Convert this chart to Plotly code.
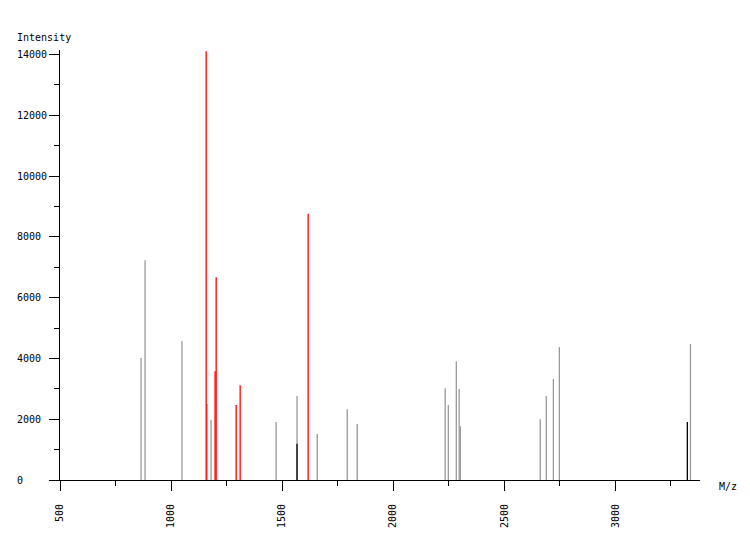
import plotly.graph_objects as go

# Peak data (m/z, intensity)
gray_mz = [865, 883, 1049, 1162, 1180, 1473, 1567, 1658, 1793, 1838,
           2234, 2248, 2284, 2297, 2302, 2662, 2689, 2721, 2748, 3338]
gray_int = [4010, 7230, 4570, 2500, 1970, 1910, 2760, 1510, 2330, 1840,
            3020, 2470, 3910, 2990, 1770, 2000, 2760, 3320, 4370, 4470]

red_mz = [1158, 1198, 1203, 1293, 1311, 1617]
red_int = [14100, 3580, 6670, 2470, 3120, 8760]

black_mz = [1567, 3324]
black_int = [1190, 1910]

y_tick_vals = [0, 2000, 4000, 6000, 8000, 10000, 12000, 14000]
x_tick_vals = [500, 1000, 1500, 2000, 2500, 3000]

FONT = "DejaVu Sans Mono"

# page body has an 8px margin, so the figure is drawn at (8, 8)
OFF = 8
L, R, T, B = 60 - OFF, 50, 50 - OFF, 60
W, H = 750 - OFF, 540 - OFF
PW = W - L - R
PH = H - T - B


def sticks(xs, ys):
    px, py = [], []
    for x, y in zip(xs, ys):
        px += [x, x, None]
        py += [0, y, None]
    return px, py


fig = go.Figure()
for xs, ys, col in [(gray_mz, gray_int, "#999999"),
                    (red_mz, red_int, "#ff0000"),
                    (black_mz, black_int, "#000000")]:
    px, py = sticks(xs, ys)
    fig.add_trace(go.Scatter(x=px, y=py, mode="lines",
                             line=dict(color=col, width=1.3),
                             hoverinfo="skip", showlegend=False))

fig.update_layout(
    width=W, height=H,
    margin=dict(l=L, r=R, t=T, b=B, autoexpand=False),
    paper_bgcolor="white", plot_bgcolor="white",
    font=dict(family=FONT, size=10, color="black"),
    showlegend=False,
)

fig.update_xaxes(
    range=[500, 3381], showgrid=False, zeroline=False,
    showline=True, linecolor="black", linewidth=1,
    ticks="outside", ticklen=10, tickwidth=1, tickcolor="black",
    tickvals=x_tick_vals, ticktext=[str(v) for v in x_tick_vals],
    tickangle=-90, ticklabelstandoff=9,
    minor=dict(ticks="outside", ticklen=5, tickwidth=1, tickcolor="black",
               dtick=250, tick0=500, showgrid=False),
)
fig.update_yaxes(
    range=[0, 14145], showgrid=False, zeroline=False,
    showline=True, linecolor="black", linewidth=1,
    ticks="outside", ticklen=10, tickwidth=1, tickcolor="black",
    tickvals=y_tick_vals, showticklabels=False,
    minor=dict(ticks="outside", ticklen=5, tickwidth=1, tickcolor="black",
               dtick=1000, tick0=0, showgrid=False),
)


def px_x(page_x):
    return (page_x - 60) / PW


def px_y(page_y):
    return (480 - page_y) / PH


# y tick labels, left-aligned as in the reference
for v in y_tick_vals:
    fig.add_annotation(x=px_x(15), xref="paper", y=v, yref="y",
                       text=str(v), showarrow=False, xanchor="left",
                       yanchor="middle", font=dict(family=FONT, size=10))

fig.add_annotation(x=px_x(15), xref="paper", y=px_y(37), yref="paper",
                   text="Intensity", showarrow=False, xanchor="left",
                   yanchor="middle", font=dict(family=FONT, size=10))
fig.add_annotation(x=px_x(717), xref="paper", y=px_y(487), yref="paper",
                   text="M/z", showarrow=False, xanchor="left",
                   yanchor="middle", font=dict(family=FONT, size=10))

fig.write_html("out.html")
